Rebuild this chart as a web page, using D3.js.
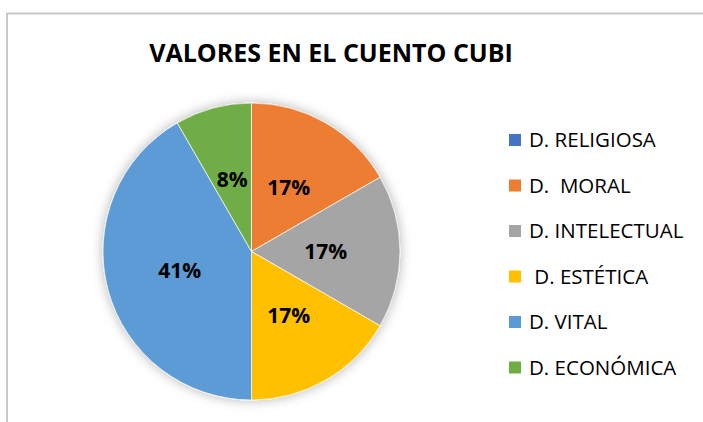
<!DOCTYPE html>
<html><head><meta charset="utf-8">
<script src="https://cdn.jsdelivr.net/npm/d3@7"></script>
<style>body{margin:0;background:#fff}svg{display:block}</style>
</head><body>
<script>
const categories = ["D. RELIGIOSA", "D.  MORAL", "D. INTELECTUAL", " D. ESTÉTICA", "D. VITAL", "D. ECONÓMICA"];
const values = [0, 2, 2, 2, 5, 1];
const percentLabels = ["0%", "17%", "17%", "17%", "41%", "8%"];
const colors = ["#4472C4", "#ED7D31", "#A5A5A5", "#FFC000", "#5B9BD5", "#70AD47"];
const title = "VALORES EN EL CUENTO CUBI";

const W = 703, H = 422;
const svg = d3.select("body").append("svg").attr("width", W).attr("height", H);

const defs = svg.append("defs");
const f = defs.append("filter").attr("id", "sh").attr("x", "-20%").attr("y", "-20%").attr("width", "140%").attr("height", "140%");
f.append("feDropShadow").attr("dx", 0).attr("dy", 0).attr("stdDeviation", 6).attr("flood-color", "#000").attr("flood-opacity", 0.3);

// chart border
svg.append("path").attr("d", `M7,${H} V13.5 H${W}`).attr("fill", "none").attr("stroke", "#c9c9c9").attr("stroke-width", 2);

svg.append("text").attr("x", 331).attr("y", 62).attr("text-anchor", "middle")
  .attr("font-family", "Open Sans, sans-serif").attr("font-weight", "bold").attr("font-size", 25)
  .attr("fill", "#000").text(title);

const cx = 251.5, cy = 251.5, R = 148.5;
const pie = d3.pie().sort(null).value(d => d)(values);
const arc = d3.arc().innerRadius(0).outerRadius(R);
const g = svg.append("g").attr("transform", `translate(${cx},${cy})`);
g.append("g").attr("filter", "url(#sh)").selectAll("path").data(pie).join("path")
  .attr("d", arc).attr("fill", (d, i) => colors[i]).attr("stroke", "#fff").attr("stroke-width", 0.7);

const labelArc = d3.arc().innerRadius(R * 0.5).outerRadius(R * 0.5);
g.selectAll("text.pl").data(pie.filter(d => d.value > 0)).join("text").attr("class", "pl")
  .attr("transform", d => { const c = labelArc.centroid(d); return `translate(${c[0]},${c[1]})`; })
  .attr("text-anchor", "middle").attr("dy", "0.35em")
  .attr("font-family", "Open Sans, sans-serif").attr("font-weight", "bold").attr("font-size", 21)
  .attr("fill", "#000").text(d => percentLabels[d.index]);

const leg = svg.append("g");
const rows = leg.selectAll("g").data(categories).join("g")
  .attr("transform", (d, i) => `translate(509,${140 + i * 45.5})`);
rows.append("rect").attr("x", 0).attr("y", -6).attr("width", 12).attr("height", 12).attr("fill", (d, i) => colors[i]);
rows.append("text").attr("x", 20).attr("y", 0).attr("dy", "0.36em").style("white-space", "pre")
  .attr("font-family", "Open Sans, sans-serif").attr("font-size", 20.5).attr("fill", "#000").text(d => d);
</script>
</body></html>
